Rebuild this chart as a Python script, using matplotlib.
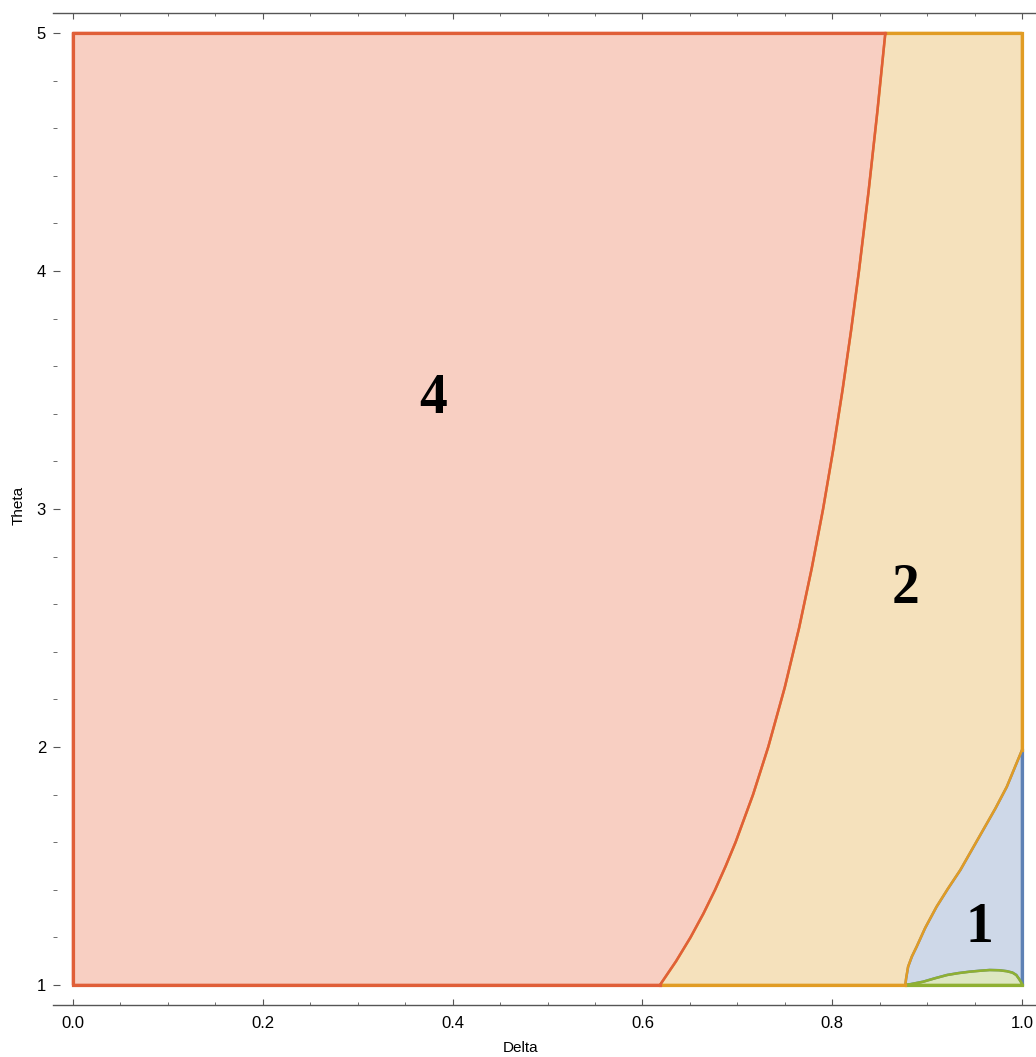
import matplotlib
matplotlib.use("Agg")
import matplotlib.pyplot as plt
from matplotlib.ticker import MultipleLocator, FormatStrFormatter

# ---- data ----
# boundary between region 4 (red) and region 2 (orange)
red_curve_theta = [1.0, 1.1, 1.2, 1.3, 1.4, 1.5, 1.6, 1.8, 2.0, 2.25, 2.5, 2.75,
                   3.0, 3.25, 3.5, 3.75, 4.0, 4.33, 4.67, 5.0]
red_curve_delta = [0.6185, 0.6355, 0.6507, 0.6643, 0.6766, 0.6878, 0.6982, 0.7166,
                   0.7326, 0.7500, 0.7651, 0.7784, 0.7904, 0.8011, 0.8109, 0.8199,
                   0.8282, 0.8382, 0.8476, 0.856]

# boundary between region 2 (orange) and region 1 (blue)
orange_curve_delta = [0.877, 0.878, 0.880, 0.884, 0.889, 0.898, 0.910, 0.922,
                      0.935, 0.947, 0.959, 0.972, 0.984, 1.0]
orange_curve_theta = [1.0, 1.03, 1.077, 1.12, 1.161, 1.24, 1.329, 1.405,
                      1.483, 1.567, 1.651, 1.742, 1.833, 1.987]

# upper edge of the small green region (region 3)
green_curve_delta = [0.878, 0.887, 0.896, 0.908, 0.921, 0.933, 0.945, 0.956,
                     0.966, 0.976, 0.984, 0.990, 0.994, 0.997, 1.0, 1.0]
green_curve_theta = [1.0, 1.007, 1.014, 1.028, 1.042, 1.050, 1.056, 1.060,
                     1.063, 1.062, 1.058, 1.052, 1.042, 1.025, 1.006, 1.0]

delta_min, delta_max = 0.0, 1.0
theta_min, theta_max = 1.0, 5.0

region_labels = ["4", "2", "1"]
label_delta = [0.379, 0.877, 0.955]
label_theta = [3.403, 2.605, 1.181]

x_label = "Delta"
y_label = "Theta"

# ---- colours (Mathematica default palette, 0.3 opacity fills) ----
c_blue = "#5E81B5"
c_orange = "#E19C24"
c_green = "#8FB032"
c_red = "#EB6235"
e_red = "#E05F38"
alpha = 0.3

W, H = 1036, 1057
fig = plt.figure(figsize=(W / 100, H / 100), dpi=100)
ax = fig.add_axes([53 / W, 1 - 1005 / H, 989 / W, 992 / H])
ax.set_xlim(delta_min - 20 / 949, delta_max + 20 / 949)
ax.set_ylim(theta_min - 20 / 238, theta_max + 20 / 238)

lw = 1.8
lw_outer = 2.3


def region(xs, ys, color, edge, z):
    ax.fill(xs, ys, facecolor=color, alpha=alpha, lw=0, zorder=z)
    ax.fill(xs, ys, facecolor="none", edgecolor=edge, lw=lw, zorder=z + 0.1,
            joinstyle="round")


# region 1 (blue): between orange curve, right edge and green curve
bx = list(orange_curve_delta) + list(green_curve_delta[::-1])
by = list(orange_curve_theta) + list(green_curve_theta[::-1])
region(bx, by, c_blue, c_blue, 1)
ax.plot([delta_max, delta_max], [green_curve_theta[-2], orange_curve_theta[-1]],
        color=c_blue, lw=lw_outer, zorder=1.2)

# region 3 (green)
region(list(green_curve_delta), list(green_curve_theta), c_green, c_green, 2)
ax.plot([green_curve_delta[0], delta_max], [theta_min, theta_min],
        color=c_green, lw=lw_outer, zorder=2.2)

# region 2 (orange)
ox = list(red_curve_delta) + [delta_max, delta_max] + list(orange_curve_delta[::-1])
oy = list(red_curve_theta) + [theta_max, orange_curve_theta[-1]] + list(orange_curve_theta[::-1])
region(ox, oy, c_orange, c_orange, 3)
ax.plot([red_curve_delta[-1], delta_max, delta_max],
        [theta_max, theta_max, orange_curve_theta[-1]],
        color=c_orange, lw=lw_outer, zorder=3.2, solid_joinstyle="miter")
ax.plot([red_curve_delta[0], orange_curve_delta[0]], [theta_min, theta_min],
        color=c_orange, lw=lw_outer, zorder=3.2)

# region 4 (red)
rx = [delta_min, delta_min] + list(red_curve_delta[::-1])
ry = [theta_min, theta_max] + list(red_curve_theta[::-1])
region(rx, ry, c_red, e_red, 4)
ax.plot([red_curve_delta[0], delta_min, delta_min, red_curve_delta[-1]],
        [theta_min, theta_min, theta_max, theta_max],
        color=e_red, lw=lw_outer, zorder=4.2, solid_joinstyle="miter")

for t, dx, ty in zip(region_labels, label_delta, label_theta):
    ax.text(dx, ty, t, ha="center", va="baseline", fontsize=40,
            fontweight="bold", family="Liberation Serif", color="black", zorder=10)

# ---- axes styling ----
for s in ["left", "right"]:
    ax.spines[s].set_visible(False)
for s in ["top", "bottom"]:
    ax.spines[s].set_color("#555555")
    ax.spines[s].set_linewidth(1.0)

ax.xaxis.set_major_locator(MultipleLocator(0.2))
ax.xaxis.set_minor_locator(MultipleLocator(0.05))
ax.yaxis.set_major_locator(MultipleLocator(1))
ax.yaxis.set_minor_locator(MultipleLocator(0.2))
ax.xaxis.set_major_formatter(FormatStrFormatter("%.1f"))
ax.yaxis.set_major_formatter(FormatStrFormatter("%d"))

ax.tick_params(axis="x", which="both", direction="in", top=True, bottom=True,
               labeltop=False, color="#555555", labelsize=12, pad=8)
ax.tick_params(axis="x", which="major", length=4.5, width=0.8)
ax.tick_params(axis="x", which="minor", length=2.5, width=0.6)
ax.tick_params(axis="y", which="both", direction="in", left=True, right=False,
               color="#555555", labelsize=12, pad=5)
ax.tick_params(axis="y", which="major", length=5, width=0.8)
ax.tick_params(axis="y", which="minor", length=3, width=0.6)
for lab in ax.get_xticklabels() + ax.get_yticklabels():
    lab.set_family("Liberation Sans")

ax.set_xlabel(x_label, fontsize=11, family="Liberation Sans", va="center")
ax.xaxis.set_label_coords((521 - 53) / 989, -(1048 - 1005) / 992)
ax.set_ylabel(y_label, fontsize=11, family="Liberation Sans", va="center")
ax.yaxis.set_label_coords((19 - 53) / 989, (1005 - 505) / 992)

fig.savefig("out.png", dpi=100)
